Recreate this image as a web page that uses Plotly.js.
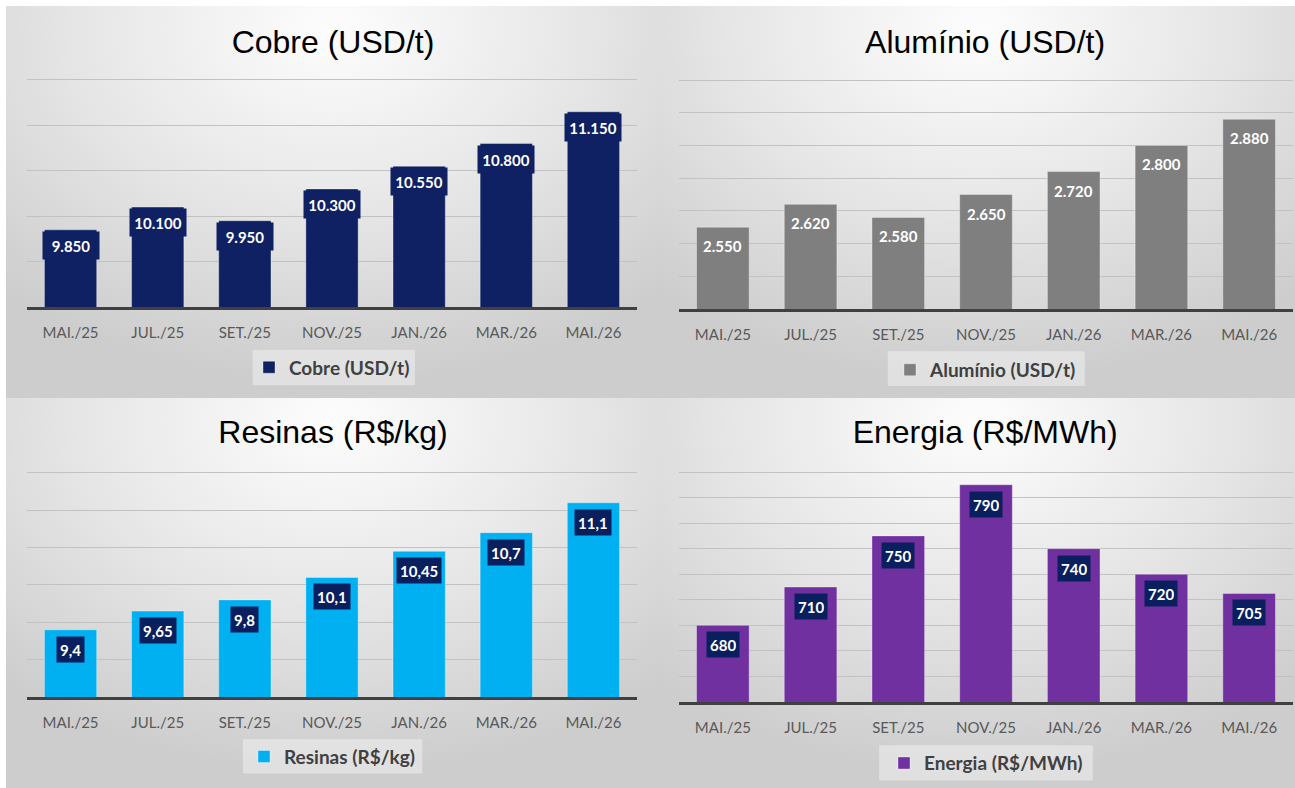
<!DOCTYPE html>
<html><head><meta charset="utf-8">
<script src="https://cdn.plot.ly/plotly-3.0.1.min.js"></script>
<style>
html,body{margin:0;padding:0;background:#fff;width:1295px;height:788px;overflow:hidden}
.p{position:absolute;background:radial-gradient(ellipse 75% 90% at 50% 6%, #fdfdfd 0%, #e7e7e7 50%, #cdcdcd 100%);}
</style></head><body>
<div id="c1" class="p" style="left:6px;top:6px;width:654px;height:392px"></div>
<div id="c2" class="p" style="left:660px;top:6px;width:635px;height:392px"></div>
<div id="c3" class="p" style="left:6px;top:398px;width:654px;height:390px"></div>
<div id="c4" class="p" style="left:660px;top:398px;width:635px;height:390px"></div>
<script>
var categories = ['MAI./25','JUL./25','SET./25','NOV./25','JAN./26','MAR./26','MAI./26'];
var cobre = [9850,10100,9950,10300,10550,10800,11150];
var aluminio = [2550,2620,2580,2650,2720,2800,2880];
var resinas = [9.4,9.65,9.8,10.1,10.45,10.7,11.1];
var energia = [680,710,750,790,740,720,705];
var titles = ['Cobre (USD/t)','Alumínio (USD/t)','Resinas (R$/kg)','Energia (R$/MWh)'];

function fmtInt(v){ return String(v).replace(/\B(?=(\d{3})+(?!\d))/g,'.'); }
function fmtDec(v){ return String(v).replace('.',','); }

var NAVY = '#0f2162';
var LABNAVY = '#0a1f5e';
var EXTRA = 4; // px of headroom so the top gridline is drawn

function make(div, opts){
  var ann = opts.values.map(function(v,i){
    var a = {x: categories[i], y: v, xref:'x', yref:'y', yanchor:'top', showarrow:false,
      text: opts.fmt(v), font:{family:'Lato, sans-serif', size:15, color:'#ffffff', weight:'bold'}};
    if (opts.box === 'wide') { a.bgcolor = opts.color; a.width = 50; a.height = 21; a.borderpad = 3; a.yshift = -1; }
    else if (opts.box === 'navy') { a.bgcolor = LABNAVY; a.height = 19; a.borderpad = 3; a.yshift = -6; }
    else { a.yshift = -8; }
    return a;
  });
  var trace = {type:'bar', x: categories, y: opts.values, name: opts.title,
    marker:{color: opts.color, line:{color:'rgba(255,255,255,0.35)', width:1}},
    showlegend:true, hoverinfo:'skip'};
  var span = opts.range[1] - opts.range[0];
  var plotH = opts.h - opts.t - opts.b;
  var yTop = opts.range[1] + span * EXTRA / plotH;
  var newH = plotH + EXTRA;
  function py(v){ return v * plotH / newH; }
  var layout = {
    width: opts.w, height: opts.h,
    margin:{l:opts.l, r:opts.r, t:opts.t - EXTRA, b:opts.b, pad:0},
    paper_bgcolor:'rgba(0,0,0,0)', plot_bgcolor:'rgba(0,0,0,0)',
    title:{text: opts.title, x: opts.tx, xref:'container', xanchor:'center', y: opts.ty, yref:'container', yanchor:'middle',
      font:{family:'Liberation Sans, Arial, sans-serif', size:32, color:'#000000'}},
    bargap: 0.40,
    xaxis:{type:'category', showline:true, linecolor:'#404040', linewidth:2.5, showgrid:false, ticks:'',
      tickfont:{family:'Lato, sans-serif', size:15, color:'#595959'}, ticklabelstandoff:10, fixedrange:true},
    yaxis:{range: [opts.range[0], yTop], dtick: opts.dtick, tick0: opts.range[0], showticklabels:false, showgrid:true,
      gridcolor:'#c2c2c2', gridwidth:1, zeroline:false, showline:false, fixedrange:true},
    showlegend:true,
    legend:{orientation:'h', x:0.5, xanchor:'center', y: py(opts.ly), yanchor:'middle', bgcolor:'rgba(0,0,0,0)',
      font:{family:'Lato, sans-serif', size:19, color:'#404040', weight:'bold'}},
    shapes:[{type:'rect', xref:'paper', yref:'paper', x0: opts.lb[0], x1: opts.lb[1], y0: py(opts.lb[2]), y1: py(opts.lb[3]),
      fillcolor:'rgba(255,255,255,0.38)', line:{width:0}, layer:'below'}],
    annotations: ann
  };
  Plotly.newPlot(div, [trace], layout, {staticPlot:true, displayModeBar:false});
}

make('c1', {values: cobre, title: titles[0], color: NAVY, fmt: fmtInt, box:'wide',
  w:654, h:392, l:21, r:23, t:74, b:89, tx:0.5, ty:1-36/392, range:[9000,11500], dtick:500,
  ly:-0.266, lb:[0.370,0.636,-0.345,-0.188]});
make('c2', {values: aluminio, title: titles[1], color: '#7f7f7f', fmt: fmtInt, box:'none',
  w:635, h:392, l:19, r:2, t:74, b:89, tx:0.512, ty:1-36/392, range:[2300,3000], dtick:100,
  ly:-0.266, lb:[0.340,0.661,-0.336,-0.184]});
make('c3', {values: resinas, title: titles[2], color: '#00b0f0', fmt: fmtDec, box:'navy',
  w:654, h:390, l:21, r:23, t:75, b:86, tx:0.5, ty:1-34/390, range:[8.5,11.5], dtick:0.5,
  ly:-0.266, lb:[0.354,0.648,-0.341,-0.188]});
make('c4', {values: energia, title: titles[3], color: '#7030a0', fmt: fmtInt, box:'navy',
  w:635, h:390, l:19, r:2, t:74, b:86, tx:0.512, ty:1-34/390, range:[620,800], dtick:20,
  ly:-0.266, lb:[0.326,0.674,-0.341,-0.188]});
</script>
</body></html>
